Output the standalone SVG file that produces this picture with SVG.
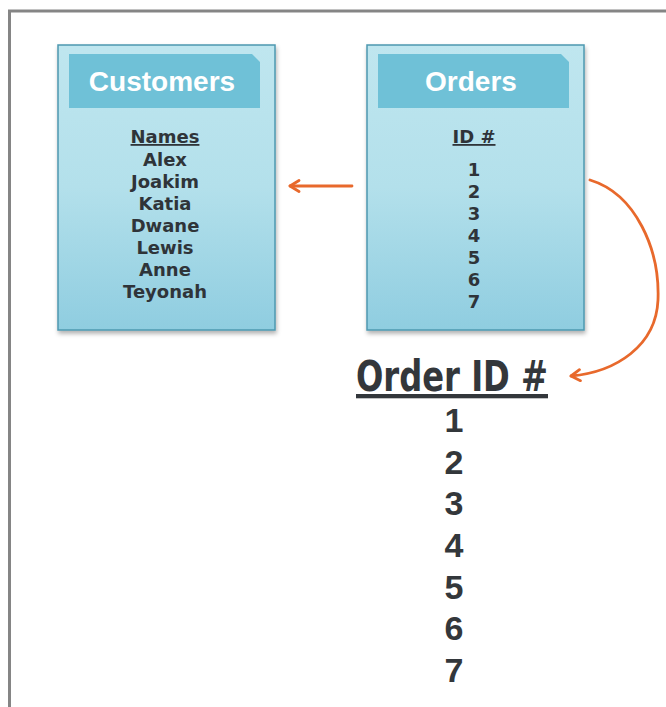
<svg xmlns="http://www.w3.org/2000/svg" width="666" height="707" viewBox="0 0 666 707">
<defs>
<linearGradient id="boxg" x1="0" y1="0" x2="0" y2="1">
<stop offset="0" stop-color="#bfe6ef"/>
<stop offset="0.5" stop-color="#b3e0eb"/>
<stop offset="1" stop-color="#8fcde0"/>
</linearGradient>
<filter id="sh" x="-10%" y="-10%" width="120%" height="120%">
<feDropShadow dx="1" dy="3" stdDeviation="2" flood-color="#000" flood-opacity="0.3"/>
</filter>
<marker id="ah" viewBox="0 0 14 14" refX="12" refY="7" markerWidth="14" markerHeight="14" markerUnits="userSpaceOnUse" orient="auto">
<path d="M3,1.5 L12,7 L3,12.5" fill="none" stroke="#e8692c" stroke-width="2.8" stroke-linecap="round" stroke-linejoin="round"/>
</marker>
</defs>
<style>
.box{fill:url(#boxg);stroke:#4d98b0;stroke-width:1.5}
.hdr{fill:#6fc1d7}
.title{font-family:"Liberation Sans",Arial,sans-serif;font-weight:bold;font-size:28px;fill:#ffffff;text-anchor:middle}
.item{font-family:"DejaVu Sans",Verdana,sans-serif;font-weight:bold;font-size:18px;fill:#2f3439;text-anchor:middle}
.big{font-family:"Liberation Sans",Arial,sans-serif;font-weight:bold;font-size:34px;fill:#33373b;text-anchor:middle}
.head{font-family:"DejaVu Sans Condensed","DejaVu Sans",sans-serif;font-weight:bold;font-size:43px;fill:#33373b;text-anchor:middle}
.conn{fill:none;stroke:#e8692c;stroke-width:2.8;stroke-linecap:round}
</style>
<rect width="666" height="707" fill="#ffffff"/>
<path d="M9.5,707 L9.5,11 L666,11" fill="none" stroke="#858585" stroke-width="3"/>
<g id="customers">
<rect class="box" x="58" y="45" width="217" height="285" filter="url(#sh)"/>
<path class="hdr" d="M69,54 L252,54 L260,62 L260,108 L69,108 Z"/>
<text class="title" x="162" y="91">Customers</text>
<text class="item" x="165" y="143" text-decoration="underline">Names</text>
<text class="item" x="165" y="166">Alex</text>
<text class="item" x="165" y="188">Joakim</text>
<text class="item" x="165" y="210">Katia</text>
<text class="item" x="165" y="232">Dwane</text>
<text class="item" x="165" y="254">Lewis</text>
<text class="item" x="165" y="276">Anne</text>
<text class="item" x="165" y="298">Teyonah</text>
</g>
<g id="orders">
<rect class="box" x="367" y="45" width="217" height="285" filter="url(#sh)"/>
<path class="hdr" d="M378,54 L561,54 L569,62 L569,108 L378,108 Z"/>
<text class="title" x="471" y="91">Orders</text>
<text class="item" x="474" y="143" text-decoration="underline">ID #</text>
<text class="item" x="474" y="176">1</text>
<text class="item" x="474" y="198">2</text>
<text class="item" x="474" y="220">3</text>
<text class="item" x="474" y="242">4</text>
<text class="item" x="474" y="264">5</text>
<text class="item" x="474" y="286">6</text>
<text class="item" x="474" y="308">7</text>
</g>
<g id="order-id-list">
<text class="head" x="452" y="391" textLength="192" lengthAdjust="spacingAndGlyphs" text-decoration="underline">Order ID #</text>
<text class="big" x="454" y="432">1</text>
<text class="big" x="454" y="474">2</text>
<text class="big" x="454" y="515">3</text>
<text class="big" x="454" y="557">4</text>
<text class="big" x="454" y="599">5</text>
<text class="big" x="454" y="640">6</text>
<text class="big" x="454" y="682">7</text>
</g>
<g id="connectors">
<path class="conn" d="M352,186 L290,186" marker-end="url(#ah)"/>
<path class="conn" d="M590,180 C636,194 660,250 658,300 C656,346 616,372 571,376" marker-end="url(#ah)"/>
</g>
</svg>
